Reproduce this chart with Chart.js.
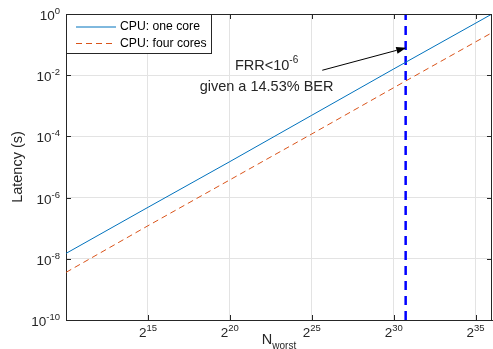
<!DOCTYPE html>
<html>
<head>
<meta charset="utf-8">
<script src="https://cdn.jsdelivr.net/npm/chart.js@4"></script>
<style>
  body { margin: 0; background: #fff; }
  #wrap { width: 493px; height: 349px; }
</style>
</head>
<body>
<div id="wrap"><canvas id="latency-chart"></canvas></div>
<script>
// Latency vs. worst-case candidate count (x is log2, y is log10)
const nWorstExp = [10, 15, 20, 25, 30, 36]; // N = 2^exp
const latencyOneCore = [1.5e-8, 4.8e-7, 1.5e-5, 4.9e-4, 1.6e-2, 1.0];
const latencyFourCores = [3.6e-9, 1.2e-7, 3.8e-6, 1.2e-4, 3.9e-3, 2.45e-1];

const xTickExp = [15, 20, 25, 30, 35];
const yTickExp = [-10, -8, -6, -4, -2, 0];

// N at which FRR < 1e-6 for a 14.53% BER
const thresholdExp = 30.73;

// annotation anchor and arrow (x as log2 exponent, y as latency)
const noteAt = { xExp: 22.24, y: 1.43e-2 };
const arrowFrom = { xExp: 25.64, y: 1.45e-2 };
const arrowTo = { xExp: 30.77, y: 7.9e-2 };

const axisColor = '#262626';
const gridColor = '#e3e3e3';
const FONT = '"Liberation Sans", Arial, Helvetica, sans-serif';

const toPoints = (values) => values.map((v, i) => ({ x: 2 ** nWorstExp[i], y: v }));

// draws "base^exp" with a raised, smaller exponent
function drawPow(ctx, base, exp, x, y, align, baseSize, expSize, rise) {
  ctx.font = baseSize + 'px ' + FONT;
  const wb = ctx.measureText(base).width;
  ctx.font = expSize + 'px ' + FONT;
  const we = ctx.measureText(exp).width;
  let left = x;
  if (align === 'right') left = x - wb - we;
  else if (align === 'center') left = x - (wb + we) / 2;
  ctx.textAlign = 'left';
  ctx.textBaseline = 'alphabetic';
  ctx.font = baseSize + 'px ' + FONT;
  ctx.fillText(base, left, y);
  ctx.font = expSize + 'px ' + FONT;
  ctx.fillText(exp, left + wb, y - rise);
}

const matlabAxes = {
  id: 'matlabAxes',
  afterDraw(chart) {
    const { ctx, chartArea: a, scales } = chart;
    const xs = scales.x, ys = scales.y;
    ctx.save();

    // box and inward ticks
    ctx.strokeStyle = axisColor;
    ctx.lineWidth = 1;
    ctx.beginPath();
    ctx.moveTo(a.left, a.top + 0.5); ctx.lineTo(a.right, a.top + 0.5);
    ctx.moveTo(a.right - 0.5, a.top); ctx.lineTo(a.right - 0.5, a.bottom);
    xTickExp.forEach((e) => {
      const px = Math.round(xs.getPixelForValue(2 ** e)) + 0.5;
      ctx.moveTo(px, a.bottom); ctx.lineTo(px, a.bottom - 5);
      ctx.moveTo(px, a.top); ctx.lineTo(px, a.top + 5);
    });
    yTickExp.forEach((e) => {
      const py = Math.round(ys.getPixelForValue(10 ** e)) + 0.5;
      ctx.moveTo(a.left, py); ctx.lineTo(a.left + 5, py);
      ctx.moveTo(a.right, py); ctx.lineTo(a.right - 5, py);
    });
    ctx.stroke();

    // tick labels
    ctx.fillStyle = axisColor;
    xTickExp.forEach((e) => {
      const px = xs.getPixelForValue(2 ** e);
      drawPow(ctx, '2', String(e), px, a.bottom + 17, 'center', 13.5, 9.5, 6);
    });
    yTickExp.forEach((e) => {
      const py = ys.getPixelForValue(10 ** e);
      drawPow(ctx, '10', String(e), a.left - 6, py + 6, 'right', 13.5, 9.5, 6);
    });

    // axis titles
    const cx = (a.left + a.right) / 2;
    ctx.font = '14.5px ' + FONT;
    const wN = ctx.measureText('N').width;
    ctx.font = '10px ' + FONT;
    const wSub = ctx.measureText('worst').width;
    let lx = cx - (wN + wSub) / 2;
    ctx.textAlign = 'left';
    ctx.font = '14.5px ' + FONT;
    ctx.fillText('N', lx, a.bottom + 24);
    ctx.font = '10px ' + FONT;
    ctx.fillText('worst', lx + wN, a.bottom + 29);

    ctx.save();
    ctx.translate(18, (a.top + a.bottom) / 2);
    ctx.rotate(-Math.PI / 2);
    ctx.font = '14.5px ' + FONT;
    ctx.textAlign = 'center';
    ctx.textBaseline = 'middle';
    ctx.fillText('Latency (s)', 0, 0);
    ctx.restore();

    // legend
    const lw = 145, lh = 39;
    ctx.fillStyle = '#fff';
    ctx.fillRect(a.left, a.top, lw, lh);
    ctx.strokeStyle = axisColor;
    ctx.strokeRect(a.left + 0.5, a.top + 0.5, lw, lh);
    chart.data.datasets.slice(0, 2).forEach((ds, i) => {
      const yy = a.top + 13 + i * 16.5;
      ctx.strokeStyle = ds.borderColor;
      ctx.lineWidth = 1;
      ctx.setLineDash(ds.borderDash || []);
      ctx.beginPath();
      ctx.moveTo(a.left + 10, yy); ctx.lineTo(a.left + 50, yy);
      ctx.stroke();
      ctx.setLineDash([]);
      ctx.fillStyle = '#000';
      ctx.font = '12.2px ' + FONT;
      ctx.textBaseline = 'middle';
      ctx.fillText(ds.label, a.left + 54, yy);
    });

    // annotation text and arrow
    ctx.fillStyle = axisColor;
    const nx = xs.getPixelForValue(2 ** noteAt.xExp);
    const ny = ys.getPixelForValue(noteAt.y);
    ctx.textBaseline = 'alphabetic';
    drawPow(ctx, 'FRR<10', '-6', nx, ny, 'center', 14.5, 10, 7);
    ctx.font = '14.5px ' + FONT;
    ctx.textAlign = 'center';
    ctx.fillText('given a 14.53% BER', nx, ny + 21);

    const x0 = xs.getPixelForValue(2 ** arrowFrom.xExp), y0 = ys.getPixelForValue(arrowFrom.y);
    const x1 = xs.getPixelForValue(2 ** arrowTo.xExp), y1 = ys.getPixelForValue(arrowTo.y);
    const ang = Math.atan2(y1 - y0, x1 - x0);
    const hl = 10, hw = 3.5;
    ctx.strokeStyle = '#000';
    ctx.fillStyle = '#000';
    ctx.lineWidth = 1;
    ctx.beginPath();
    ctx.moveTo(x0, y0);
    ctx.lineTo(x1 - hl * Math.cos(ang), y1 - hl * Math.sin(ang));
    ctx.stroke();
    ctx.beginPath();
    ctx.moveTo(x1, y1);
    ctx.lineTo(x1 - hl * Math.cos(ang) + hw * Math.sin(ang), y1 - hl * Math.sin(ang) - hw * Math.cos(ang));
    ctx.lineTo(x1 - hl * Math.cos(ang) - hw * Math.sin(ang), y1 - hl * Math.sin(ang) + hw * Math.cos(ang));
    ctx.closePath();
    ctx.fill();

    ctx.restore();
  },
};

new Chart(document.getElementById('latency-chart'), {
  type: 'scatter',
  data: {
    datasets: [
      {
        label: 'CPU: one core',
        data: toPoints(latencyOneCore),
        showLine: true,
        borderColor: '#0072BD',
        borderWidth: 1,
        pointRadius: 0,
      },
      {
        label: 'CPU: four cores',
        data: toPoints(latencyFourCores),
        showLine: true,
        borderColor: '#D95319',
        borderWidth: 1,
        borderDash: [6, 4],
        pointRadius: 0,
      },
      {
        label: 'threshold',
        data: [
          { x: 2 ** thresholdExp, y: 10 ** yTickExp[0] },
          { x: 2 ** thresholdExp, y: 10 ** yTickExp[yTickExp.length - 1] },
        ],
        showLine: true,
        borderColor: '#0000FF',
        borderWidth: 2.5,
        borderDash: [9, 6],
        pointRadius: 0,
      },
    ],
  },
  options: {
    responsive: true,
    maintainAspectRatio: false,
    animation: false,
    layout: { padding: { top: 14, right: 1, left: 0, bottom: 0 } },
    plugins: { legend: { display: false }, tooltip: { enabled: false } },
    scales: {
      x: {
        type: 'logarithmic',
        min: 2 ** 10,
        max: 2 ** 36,
        afterBuildTicks: (s) => { s.ticks = xTickExp.map((e) => ({ value: 2 ** e })); },
        afterFit: (s) => { s.height = 29; },
        ticks: { display: false },
        grid: { color: gridColor, drawTicks: false },
        border: { color: axisColor, width: 1 },
      },
      y: {
        type: 'logarithmic',
        min: 10 ** yTickExp[0],
        max: 10 ** yTickExp[yTickExp.length - 1],
        afterBuildTicks: (s) => { s.ticks = yTickExp.map((e) => ({ value: 10 ** e })); },
        afterFit: (s) => { s.width = 66; },
        ticks: { display: false },
        grid: { color: gridColor, drawTicks: false },
        border: { color: axisColor, width: 1 },
      },
    },
  },
  plugins: [matlabAxes],
});
</script>
</body>
</html>
